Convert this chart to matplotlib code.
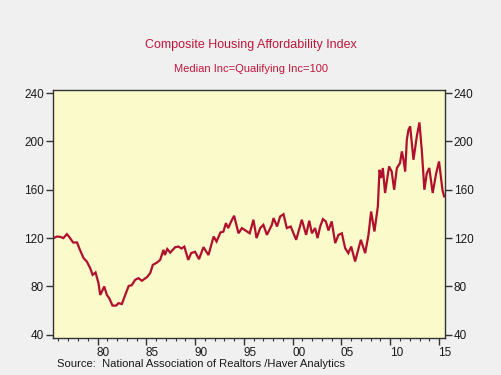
import numpy as np
import matplotlib
matplotlib.use('Agg')
import matplotlib.pyplot as plt
import matplotlib.transforms as mtransforms

plt.rcParams['font.family'] = ['Liberation Sans', 'DejaVu Sans']

# Composite housing affordability index (decimal years)
years = [1975.5, 1975.84, 1976.2, 1976.5, 1976.86, 1977.1, 1977.5, 1977.9, 1978.2, 1978.57,
         1978.9, 1979.25, 1979.5, 1979.8, 1980.1, 1980.28, 1980.45, 1980.69, 1980.96, 1981.2,
         1981.54, 1981.9, 1982.15, 1982.5, 1982.84, 1983.2, 1983.5, 1983.86, 1984.2, 1984.55,
         1985.06, 1985.4, 1985.67, 1986.1, 1986.42, 1986.76, 1986.9, 1987.15, 1987.45, 1987.96,
         1988.3, 1988.6, 1988.9, 1989.3, 1989.6, 1990.0, 1990.4, 1990.86, 1991.37, 1991.9,
         1992.2, 1992.6, 1992.9, 1993.16, 1993.4, 1993.7, 1994.0, 1994.45, 1994.8, 1995.3,
         1995.6, 1995.98, 1996.3, 1996.67, 1997.0, 1997.36, 1997.87, 1998.04, 1998.4, 1998.72,
         1999.06, 1999.4, 1999.8, 2000.36, 2000.94, 2001.38, 2001.7, 2001.97, 2002.3, 2002.55,
         2002.82, 2003.1, 2003.4, 2003.67, 2004.0, 2004.36, 2004.7, 2005.04, 2005.38, 2005.7,
         2006.0, 2006.4, 2006.99, 2007.43, 2007.77, 2008.04, 2008.38, 2008.73, 2008.9, 2009.07,
         2009.24, 2009.47, 2009.88, 2010.15, 2010.4, 2010.68, 2011.0, 2011.19, 2011.36, 2011.53,
         2011.7, 2011.87, 2012.04, 2012.38, 2012.72, 2012.99, 2013.23, 2013.5, 2013.74, 2014.0,
         2014.35, 2014.7, 2015.0, 2015.35, 2015.52]
index = [120, 121.3, 121, 120, 123.3, 121, 116.4, 116.4, 110.3, 103.5,
         100.7, 95.2, 89.6, 91.6, 82.8, 73, 75.8, 80, 73, 70.3,
         64.2, 64.2, 66.2, 65.5, 73, 80.5, 81, 85.5, 86.9, 84.7,
         87.7, 91, 97.9, 99.8, 102, 110.3, 106, 111, 108, 112.5,
         113, 111.4, 113, 102, 107.6, 108.7, 102.6, 112.5, 106, 121.3,
         117.2, 124.7, 125.3, 132.4, 128.3, 133.8, 138.5, 124, 128.3, 125.6,
         124, 135.2, 120, 128.3, 131, 122.7, 131, 136.6, 129.6, 137.9,
         139.8, 128.3, 129.6, 118.6, 135.2, 122.7, 134.4, 124, 128.3, 120,
         129.6, 135.7, 133.8, 126.3, 133.8, 115.9, 122.7, 124, 111.7, 107.6,
         113, 100.7, 118.6, 107.6, 122.7, 142, 125.5, 146.2, 176.5, 169.7,
         178, 157.3, 179.3, 175, 160, 178, 182, 191.7, 184.8, 175,
         201.4, 209.6, 212.4, 184.8, 204, 215.7, 193, 160, 173.4, 178,
         157.3, 173.4, 183.4, 160, 154.5]

major_years = [1980, 1985, 1990, 1995, 2000, 2005, 2010, 2015]
year_labels = ['80', '85', '90', '95', '00', '05', '10', '15']
y_ticks = [40, 80, 120, 160, 200, 240]

red = '#b0102e'
fig = plt.figure(figsize=(5.01, 3.75), dpi=100, facecolor='#f0f0f0')
ax = fig.add_axes([0.106, 0.099, 0.782, 0.661], facecolor='#fafaca')

ax.plot(years, index, color=red, lw=1.6, solid_joinstyle='miter')

ax.set_xlim(1975.45, 2015.6)
ax.set_ylim(37.5, 242.5)

ax.set_xticks(major_years)
ax.set_xticklabels(year_labels)
ax.set_xticks(np.arange(1976, 2016), minor=True)
ax.set_yticks(y_ticks)

ax.tick_params(axis='x', which='major', length=5, width=1, color='#333333', pad=1.5,
               labelsize=8.5, labelcolor='#1a1a1a')
ax.tick_params(axis='x', which='minor', length=2.5, width=0.8, color='#333333')
ax.tick_params(axis='y', which='major', length=5, width=1, color='#333333', pad=1.5,
               labelsize=8.5, labelcolor='#1a1a1a', left=True, right=True,
               labelleft=True, labelright=True)

# year labels sit a little to the right of their ticks
offset = mtransforms.ScaledTranslation(6 / 100, 0, fig.dpi_scale_trans)
for lab in ax.get_xticklabels():
    lab.set_transform(lab.get_transform() + offset)

for s in ax.spines.values():
    s.set_color('#333333')
    s.set_linewidth(1)

fig.text(0.5, 1 - 45 / 375, 'Composite Housing Affordability Index', color='#c0163c',
         fontsize=9, ha='center', va='center')
fig.text(0.5, 1 - 69 / 375, 'Median Inc=Qualifying Inc=100', color='#c0163c',
         fontsize=8, ha='center', va='center')
fig.text(57 / 501, 1 - 364 / 375, 'Source:  National Association of Realtors /Haver Analytics',
         color='#1a1a1a', fontsize=8.1, ha='left', va='center')

fig.savefig('out.png', dpi=100, facecolor=fig.get_facecolor())
